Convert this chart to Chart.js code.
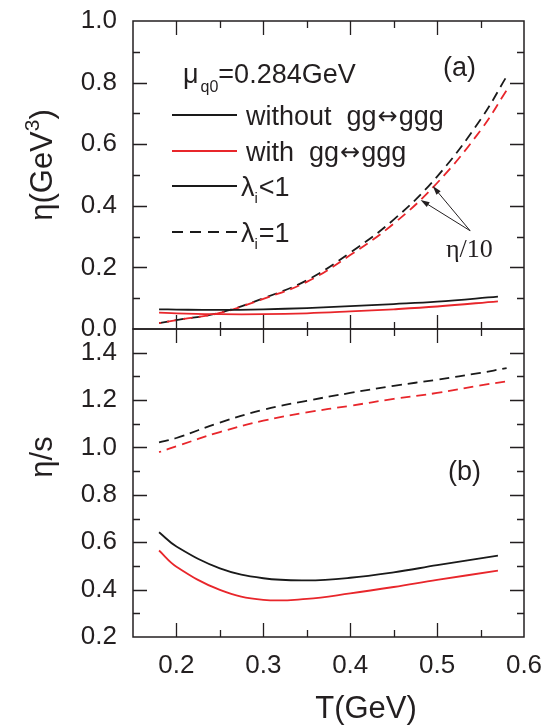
<!DOCTYPE html>
<html>
<head>
<meta charset="utf-8">
<script src="https://cdn.jsdelivr.net/npm/chart.js@4.4.0/dist/chart.umd.min.js"></script>
<style>
    html, body { margin:0; padding:0; background:#fff; }
    #wrap { position:relative; width:549px; height:725px; overflow:hidden; }
    #bot  { position:absolute; left:0; top:289px; }
    #top  { position:absolute; left:0; top:-19px; }
</style>
</head>
<body>
<div id="wrap">
    <canvas id="bot" width="564" height="436"></canvas>
    <canvas id="top" width="549" height="388"></canvas>
</div>
<script>
// ============================================================
// DATA
// ============================================================

const tSolid = [0.18, 0.20, 0.25, 0.30, 0.35, 0.40, 0.45, 0.50, 0.57];
const tDash  = [0.18, 0.20, 0.25, 0.30, 0.35, 0.40, 0.45, 0.50, 0.55, 0.58];

// (a) eta, lambda_i < 1 (solid)
const etaWithout = [0.064, 0.063, 0.062, 0.064, 0.068, 0.074, 0.081, 0.089, 0.105];
const etaWith    = [0.053, 0.051, 0.048, 0.048, 0.051, 0.057, 0.064, 0.073, 0.090];
// (a) eta/10, lambda_i = 1 (dashed)
const etaTenthWithout = [0.019, 0.029, 0.053, 0.100, 0.158, 0.248, 0.355, 0.495, 0.680, 0.820];
const etaTenthWith    = [0.019, 0.029, 0.052, 0.098, 0.153, 0.240, 0.342, 0.474, 0.645, 0.775];

// (b) eta/s
const ratioEqWithout = [1.021, 1.040, 1.105, 1.159, 1.197, 1.230, 1.260, 1.286, 1.315, 1.335];
const ratioEqWith    = [0.980, 1.005, 1.065, 1.113, 1.148, 1.176, 1.205, 1.230, 1.262, 1.279];
const ratioLtWithout = [0.642, 0.582, 0.490, 0.448, 0.439, 0.450, 0.473, 0.503, 0.543];
const ratioLtWith    = [0.565, 0.497, 0.399, 0.357, 0.361, 0.384, 0.411, 0.441, 0.480];

// ticks
const xTicks     = [0.2, 0.3, 0.4, 0.5, 0.6];
const xMinor     = [0.25, 0.35, 0.45, 0.55];
const etaTicks   = [0.0, 0.2, 0.4, 0.6, 0.8, 1.0];
const etaMinor   = [0.1, 0.3, 0.5, 0.7, 0.9];
const ratioTicks = [0.2, 0.4, 0.6, 0.8, 1.0, 1.2, 1.4];
const ratioMinor = [0.3, 0.5, 0.7, 0.9, 1.1, 1.3];

// arrow annotation (data coords): tail, heads
const arrowTail  = [0.538, 0.319];
const arrowHeads = [[0.495, 0.464], [0.481, 0.419]];

// ============================================================

const BLACK = '#1a1a1a';
const RED   = '#e8262b';
const TEXT  = '#231f20';
const FONT  = '"Liberation Sans", Arial, sans-serif';
const ARROW_FONT = '"DejaVu Sans", sans-serif';

// canvas offsets on the page (decor text is placed in page coordinates)
const TOP_OFFSET = -19;
const BOT_OFFSET = 289;

const pts = (xs, ys) => xs.map((x, i) => ({ x: x, y: ys[i] }));

function line(label, xs, ys, color, dashed, order) {
    return {
        label: label,
        data: pts(xs, ys),
        borderColor: color,
        borderWidth: 1.8,
        borderDash: dashed ? [10, 6] : [],
        borderDashOffset: (dashed && color === RED) ? 8 : 0,
        pointRadius: 0,
        fill: false,
        tension: 0.4,
        order: order
    };
}

// frame + inward ticks on all four sides
function framePlugin(yMajor, yMinorList) {
    return {
        id: 'frameTicks',
        afterDraw(chart) {
            const { ctx, chartArea: a, scales } = chart;
            const xs = scales.x, ys = scales.y;
            const L = a.left, R = a.right, T = a.top, B = a.bottom;
            ctx.save();
            ctx.setLineDash([]);
            ctx.strokeStyle = TEXT;
            ctx.lineWidth = 1.5;
            ctx.strokeRect(L, T, R - L, B - T);
            ctx.lineWidth = 1.3;
            ctx.beginPath();
            xTicks.concat(xMinor).forEach(v => {
                const len = xTicks.includes(v) ? 14 : 7;
                const p = Math.round(xs.getPixelForValue(v)) + 0.5;
                if (p <= L + 1 || p >= R - 1) return;
                ctx.moveTo(p, B); ctx.lineTo(p, B - len);
                ctx.moveTo(p, T); ctx.lineTo(p, T + len);
            });
            yMajor.concat(yMinorList).forEach(v => {
                const len = yMajor.includes(v) ? 14 : 7;
                const p = Math.round(ys.getPixelForValue(v)) + 0.5;
                if (p <= T + 1 || p >= B - 1) return;
                ctx.moveTo(L, p); ctx.lineTo(L + len, p);
                ctx.moveTo(R, p); ctx.lineTo(R - len, p);
            });
            ctx.stroke();
            ctx.restore();
        }
    };
}

function xScale(showLabels, height, padding) {
    return {
        type: 'linear', min: 0.15, max: 0.6,
        afterBuildTicks: s => { s.ticks = xTicks.map(v => ({ value: v })); },
        afterFit: s => { s.height = height; },
        grid: { display: false, drawTicks: false },
        border: { display: false },
        ticks: {
            display: showLabels,
            padding: padding,
            maxRotation: 0,
            color: TEXT,
            font: { family: FONT, size: 26 },
            callback: v => v.toFixed(1)
        }
    };
}

function yScale(min, max, list) {
    return {
        type: 'linear', min: min, max: max,
        afterBuildTicks: s => { s.ticks = list.map(v => ({ value: v })); },
        afterFit: s => { s.width = 133; },
        grid: { display: false, drawTicks: false },
        border: { display: false },
        ticks: {
            padding: 16,
            color: TEXT,
            font: { family: FONT, size: 26 },
            callback: v => v.toFixed(1)
        }
    };
}

function drawArrow(ctx, x0, y0, x1, y1) {
    const ang = Math.atan2(y1 - y0, x1 - x0);
    const c = Math.cos(ang), s = Math.sin(ang);
    ctx.beginPath();
    ctx.moveTo(x0, y0);
    ctx.lineTo(x1 - 6 * c, y1 - 6 * s);
    ctx.stroke();
    ctx.beginPath();
    ctx.moveTo(x1, y1);
    ctx.lineTo(x1 - 9 * c + 2.8 * s, y1 - 9 * s - 2.8 * c);
    ctx.lineTo(x1 - 9 * c - 2.8 * s, y1 - 9 * s + 2.8 * c);
    ctx.closePath();
    ctx.fill();
}

// rotated title built from pieces [text, size, raise]
function rotTitle(ctx, cx, cy, parts) {
    ctx.save();
    ctx.translate(cx, cy);
    ctx.rotate(-Math.PI / 2);
    let w = 0;
    parts.forEach(p => { ctx.font = p[1] + 'px ' + FONT; w += ctx.measureText(p[0]).width; });
    let x = -w / 2;
    ctx.textBaseline = 'alphabetic';
    ctx.textAlign = 'left';
    parts.forEach(p => {
        ctx.font = p[1] + 'px ' + FONT;
        ctx.fillText(p[0], x, 10 - p[2]);
        x += ctx.measureText(p[0]).width;
    });
    ctx.restore();
}

// text with a tight "gg↔ggg"
function reactionText(ctx, head, x, y) {
    ctx.font = '27px ' + FONT;
    ctx.fillText(head + 'gg', x, y);
    x += ctx.measureText(head + 'gg').width + 1;
    ctx.font = '24px ' + ARROW_FONT;
    ctx.fillText('↔', x, y - 1);
    x += ctx.measureText('↔').width + 1;
    ctx.font = '27px ' + FONT;
    ctx.fillText('ggg', x, y);
}

const topDecor = {
    id: 'topDecor',
    afterDraw(chart) {
        const { ctx, scales } = chart;
        const tx = scales.x.getPixelForValue(arrowTail[0]);
        const ty = scales.y.getPixelForValue(arrowTail[1]);
        const heads = arrowHeads.map(h => [scales.x.getPixelForValue(h[0]), scales.y.getPixelForValue(h[1])]);

        ctx.save();
        ctx.fillStyle = TEXT;
        ctx.strokeStyle = TEXT;
        ctx.lineWidth = 1;
        heads.forEach(h => drawArrow(ctx, tx, ty, h[0], h[1]));

        ctx.translate(0, -TOP_OFFSET);   // page coordinates from here
        rotTitle(ctx, 42, 165, [['η(GeV', 31, 0], ['3', 21, 13], [')', 31, 0]]);

        // mu_q0 line
        ctx.textBaseline = 'alphabetic';
        ctx.font = '27px ' + FONT;
        ctx.fillText('μ', 183, 83);
        let x = 183 + ctx.measureText('μ').width + 2;
        ctx.font = '16px ' + FONT;
        ctx.fillText('q0', x, 92);
        x += ctx.measureText('q0').width;
        ctx.font = '27px ' + FONT;
        ctx.fillText('=0.284GeV', x, 83);

        ctx.fillText('(a)', 443, 76);

        // legend
        const rows = [
            { y: 115, color: BLACK, dash: [],      txt: 'without  ' },
            { y: 151, color: RED,   dash: [],      txt: 'with  ' },
            { y: 186, color: BLACK, dash: [],      lam: '<1' },
            { y: 232, color: BLACK, dash: [11, 7], lam: '=1' }
        ];
        rows.forEach(r => {
            ctx.save();
            ctx.strokeStyle = r.color;
            ctx.lineWidth = 1.8;
            ctx.setLineDash(r.dash);
            ctx.beginPath();
            ctx.moveTo(172, r.y); ctx.lineTo(237, r.y);
            ctx.stroke();
            ctx.restore();
            if (r.txt) {
                reactionText(ctx, r.txt, 246, r.y + 10);
            } else {
                ctx.font = '27px ' + FONT;
                ctx.fillText('λ', 241, r.y + 10);
                let lx = 241 + ctx.measureText('λ').width;
                ctx.font = '15px ' + FONT;
                ctx.fillText('i', lx, r.y + 17);
                lx += ctx.measureText('i').width + 1;
                ctx.font = '27px ' + FONT;
                ctx.fillText(r.lam, lx, r.y + 10);
            }
        });

        ctx.font = '26px "Liberation Serif", "Times New Roman", serif';
        ctx.fillText('η/10', 446, 257);
        ctx.restore();
    }
};

const botDecor = {
    id: 'botDecor',
    afterDraw(chart) {
        const ctx = chart.ctx;
        ctx.save();
        ctx.translate(0, -BOT_OFFSET);   // page coordinates
        ctx.fillStyle = TEXT;
        rotTitle(ctx, 42, 457, [['η/s', 31, 0]]);
        ctx.font = '27px ' + FONT;
        ctx.textBaseline = 'alphabetic';
        ctx.fillText('(b)', 448, 480);
        ctx.font = '31px ' + FONT;
        ctx.textAlign = 'center';
        ctx.fillText('T(GeV)', 366, 718);
        ctx.restore();
    }
};

const common = {
    responsive: false,
    animation: false,
    devicePixelRatio: 1,
    plugins: { legend: { display: false }, tooltip: { enabled: false } }
};

// top: chart area 40..348 in canvas = 21..329 on page
new Chart(document.getElementById('top'), {
    type: 'line',
    data: {
        datasets: [
            line('λi<1 without', tSolid, etaWithout, BLACK, false, 2),
            line('λi<1 with',    tSolid, etaWith,    RED,   false, 1),
            line('λi=1 without', tDash,  etaTenthWithout, BLACK, true, 4),
            line('λi=1 with',    tDash,  etaTenthWith,    RED,   true, 3)
        ]
    },
    options: Object.assign({}, common, {
        layout: { padding: { left: 0, right: 25, top: 40, bottom: 0 } },
        scales: { x: xScale(false, 40, 0), y: yScale(0, 1.0, etaTicks) }
    }),
    plugins: [framePlugin(etaTicks, etaMinor), topDecor]
});

// bottom: chart area 40..348 in canvas = 329..637 on page, right edge 564-40 = 524
new Chart(document.getElementById('bot'), {
    type: 'line',
    data: {
        datasets: [
            line('λi=1 without', tDash,  ratioEqWithout, BLACK, true, 2),
            line('λi=1 with',    tDash,  ratioEqWith,    RED,   true, 1),
            line('λi<1 without', tSolid, ratioLtWithout, BLACK, false, 4),
            line('λi<1 with',    tSolid, ratioLtWith,    RED,   false, 3)
        ]
    },
    options: Object.assign({}, common, {
        layout: { padding: { left: 0, right: 40, top: 40, bottom: 0 } },
        scales: { x: xScale(true, 88, 13), y: yScale(0.2, 1.5, ratioTicks) }
    }),
    plugins: [framePlugin(ratioTicks, ratioMinor), botDecor]
});
</script>
</body>
</html>
